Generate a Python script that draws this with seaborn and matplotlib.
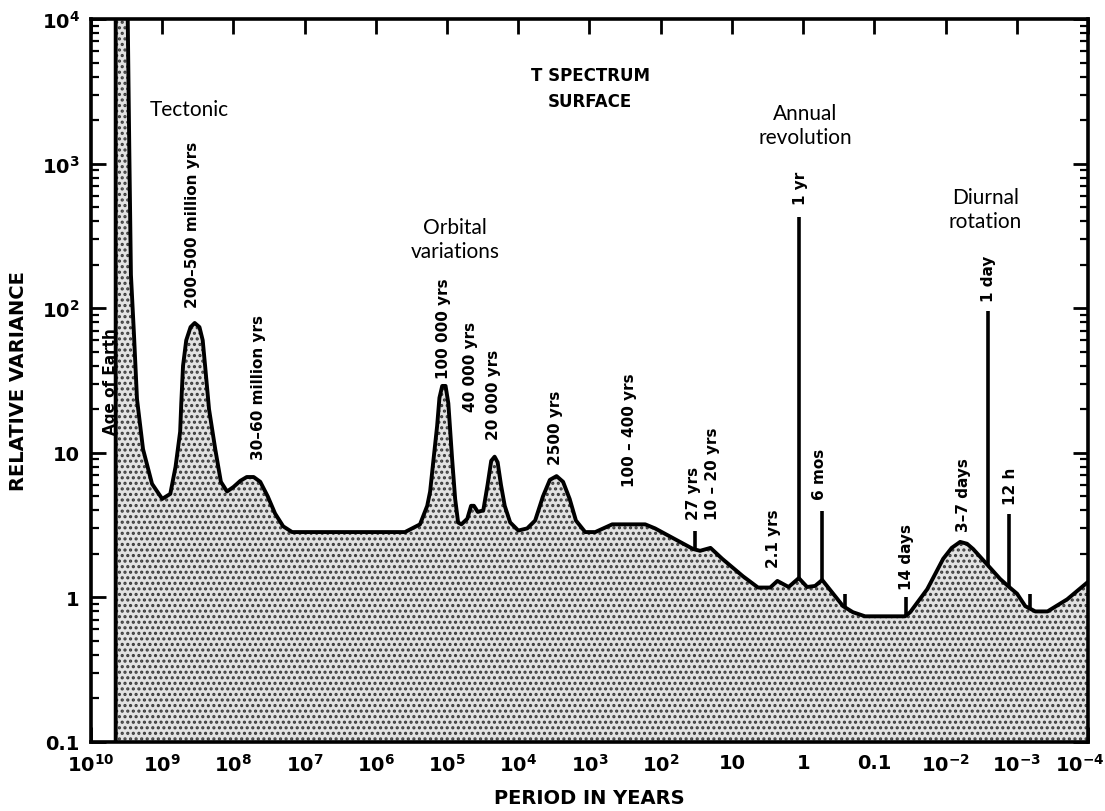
import numpy as np
import pandas as pd
import matplotlib
matplotlib.use("Agg")
import matplotlib.pyplot as plt
from matplotlib.ticker import LogLocator, NullLocator, FixedLocator, FixedFormatter
from matplotlib.transforms import ScaledTranslation
import seaborn as sns

# spectrum outline: period (years) vs relative variance
period = [4.5e9, 4.5e9, 3.1e9, 2.9e9, 2.75e9, 2.5e9, 2.26e9, 1.86e9, 1.39e9, 1.0e9,
          7.7e8, 6.5e8, 5.6e8, 5.4e8, 5.1e8, 4.6e8, 4.0e8, 3.5e8, 3.0e8, 2.7e8,
          2.5e8, 2.2e8, 1.8e8, 1.5e8, 1.23e8,
          1.0e8, 8.0e7, 6.5e7, 5.2e7, 4.2e7, 3.3e7, 2.6e7, 2.0e7, 1.5e7,
          3.9e5, 2.4e5, 1.9e5, 1.73e5, 1.55e5, 1.38e5, 1.28e5, 1.17e5, 1.05e5, 9.6e4,
          8.5e4, 7.7e4, 7.0e4, 6.3e4, 5.2e4, 4.6e4, 4.2e4, 3.7e4, 3.1e4, 2.7e4,
          2.4e4, 2.15e4, 1.95e4, 1.75e4, 1.55e4, 1.3e4, 1.0e4, 7.5e3, 5.8e3, 4.5e3,
          3.6e3, 2.9e3, 2.35e3, 1.9e3, 1.55e3, 1.15e3, 830, 480, 165, 120,
          35, 28, 20, 13.7, 7.0, 4.3, 2.9, 2.3, 1.6, 1.15, 0.88, 0.68, 0.54, 0.42,
          0.275, 0.2, 0.135, 0.037, 0.0314, 0.0181, 0.0108, 0.0082, 0.00624, 0.005,
          0.0041, 0.0025, 0.00171, 0.00128, 0.00099, 7.6e-4, 5.5e-4, 3.7e-4, 1.96e-4, 1.0e-4]
variance = [0.1, 2e4, 2e4, 1260, 170, 68, 23.5, 10.6, 6.1, 4.8,
            5.2, 8.0, 14, 22, 40, 60, 74, 79, 74, 60,
            40, 20, 10.6, 6.3, 5.4,
            5.8, 6.4, 6.8, 6.8, 6.3, 5.0, 3.8, 3.1, 2.83,
            2.83, 3.2, 4.3, 5.4, 9.0, 15.3, 24, 29, 29, 22,
            9.1, 4.8, 3.3, 3.2, 3.5, 4.3, 4.3, 3.9, 4.0, 6.0,
            8.8, 9.4, 8.6, 6.0, 4.3, 3.3, 2.9, 3.0, 3.4, 5.0,
            6.5, 6.9, 6.3, 4.8, 3.4, 2.83, 2.83, 3.2, 3.2, 3.0,
            2.16, 2.1, 2.2, 1.85, 1.4, 1.17, 1.17, 1.3, 1.18, 1.36, 1.18, 1.2, 1.32, 1.13,
            0.87, 0.79, 0.74, 0.74, 0.79, 1.14, 1.85, 2.2, 2.42, 2.35,
            2.16, 1.65, 1.34, 1.18, 1.06, 0.87, 0.8, 0.8, 0.97, 1.28]

# narrow line peaks standing on the curve
spike_period = [33, 1.15, 0.54, 0.26, 0.036, 0.0025, 0.00128, 6.6e-4]
spike_base = [2.13, 1.36, 1.32, 0.85, 0.74, 1.65, 1.18, 0.84]
spike_top = [2.9, 427, 3.95, 1.06, 1.0, 96, 3.8, 1.06]

# rotated peak labels (text, period, variance at text bottom)
peak_text = ["Age of Earth", "200–500 million yrs", "30–60 million yrs", "100 000 yrs",
             "40 000 yrs", "20 000 yrs", "2500 yrs", "100 – 400 yrs", "27 yrs",
             "10 – 20 yrs", "2.1 yrs", "1 yr", "6 mos", "14 days", "3–7 days",
             "1 day", "12 h"]
peak_x = [5.3e9, 3.7e8, 4.5e7, 1.14e5, 4.75e4, 2.2e4, 3.0e3, 270, 35,
          19, 2.6, 1.1, 0.58, 0.0357, 0.00566, 0.0025, 0.00124]
peak_y = [13.5, 102, 9.1, 33, 19.5, 12.4, 8.4, 5.9, 3.5,
          3.5, 1.62, 525, 4.8, 1.14, 2.9, 112, 4.4]

# process group labels
group_text = ["Tectonic", "Orbital\nvariations", "Annual\nrevolution", "Diurnal\nrotation"]
group_x = [4.1e8, 7.7e4, 0.94, 0.00278]
group_y = [2390, 301, 1850, 485]

xtick_vals = [1e10, 1e9, 1e8, 1e7, 1e6, 1e5, 1e4, 1e3, 1e2, 10, 1, 0.1, 1e-2, 1e-3, 1e-4]
xtick_labels = [r"$10^{10}$", r"$10^{9}$", r"$10^{8}$", r"$10^{7}$", r"$10^{6}$", r"$10^{5}$",
                r"$10^{4}$", r"$10^{3}$", r"$10^{2}$", "10", "1", "0.1",
                r"$10^{-2}$", r"$10^{-3}$", r"$10^{-4}$"]
ytick_vals = [0.1, 1, 10, 1e2, 1e3, 1e4]
ytick_labels = ["0.1", "1", "10", r"$10^{2}$", r"$10^{3}$", r"$10^{4}$"]

sns.set_style("ticks")
plt.rcParams["font.family"] = ["DejaVu Sans"]
plt.rcParams["mathtext.default"] = "bf"
plt.rcParams["hatch.linewidth"] = 1.5
plt.rcParams["hatch.color"] = "#3a3a3a"
plt.rcParams["text.color"] = "black"
plt.rcParams["axes.labelcolor"] = "black"
plt.rcParams["xtick.color"] = "black"
plt.rcParams["ytick.color"] = "black"

df = pd.DataFrame({"period": period, "variance": variance})

fig = plt.figure(figsize=(11.05, 8.12), dpi=100)
ax = fig.add_axes([91 / 1105, 1 - 743 / 812, 997 / 1105, 723 / 812])
ax.set_xscale("log")
ax.set_yscale("log")
ax.set_xlim(1e10, 1e-4)
ax.set_ylim(0.1, 1e4)

ax.fill_between(df["period"], df["variance"], 0.1, facecolor="#e2e2e2",
                edgecolor="#3a3a3a", hatch="...", linewidth=0, zorder=1)
sns.lineplot(data=df, x="period", y="variance", sort=False, estimator=None,
             color="black", linewidth=2.8, ax=ax, zorder=3)
ax.vlines(spike_period, spike_base, spike_top, color="black", linewidth=2.6, zorder=3)

for t, x, y in zip(peak_text, peak_x, peak_y):
    ax.text(x, y, t, rotation=90, ha="center", va="bottom", fontsize=11,
            fontweight="bold", zorder=4)

for t, x, y in zip(group_text, group_x, group_y):
    ax.text(x, y, t, ha="center", va="center", fontsize=15, family=["Lato", "DejaVu Sans"],
            linespacing=1.25, zorder=4)

ax.text(980, 3330, "T SPECTRUM\nSURFACE", ha="center", va="center", fontsize=12,
        fontweight="bold", linespacing=1.6)

ax.xaxis.set_major_locator(FixedLocator(xtick_vals))
ax.xaxis.set_major_formatter(FixedFormatter(xtick_labels))
ax.xaxis.set_minor_locator(NullLocator())
ax.yaxis.set_major_locator(FixedLocator(ytick_vals))
ax.yaxis.set_major_formatter(FixedFormatter(ytick_labels))
ax.yaxis.set_minor_locator(LogLocator(base=10, subs=np.arange(2, 10)))

ax.tick_params(which="major", direction="in", length=11, width=2, top=True, right=True,
               labelsize=14, pad=8)
ax.tick_params(which="minor", direction="in", length=6, width=1.6, top=True, right=True)
ax.tick_params(axis="y", which="minor", labelleft=False)
for lab in ax.get_xticklabels() + ax.get_yticklabels():
    lab.set_fontweight("bold")
# keep the last period label inside the figure
last = ax.get_xticklabels()[-1]
last.set_transform(last.get_transform() + ScaledTranslation(-0.08, 0, fig.dpi_scale_trans))

for s in ax.spines.values():
    s.set_linewidth(2.6)
    s.set_color("black")

ax.set_xlabel("PERIOD IN YEARS", fontsize=14, fontweight="bold", labelpad=9)
ax.set_ylabel("RELATIVE VARIANCE", fontsize=14, fontweight="bold", labelpad=10)

fig.savefig("out.png", dpi=100)
